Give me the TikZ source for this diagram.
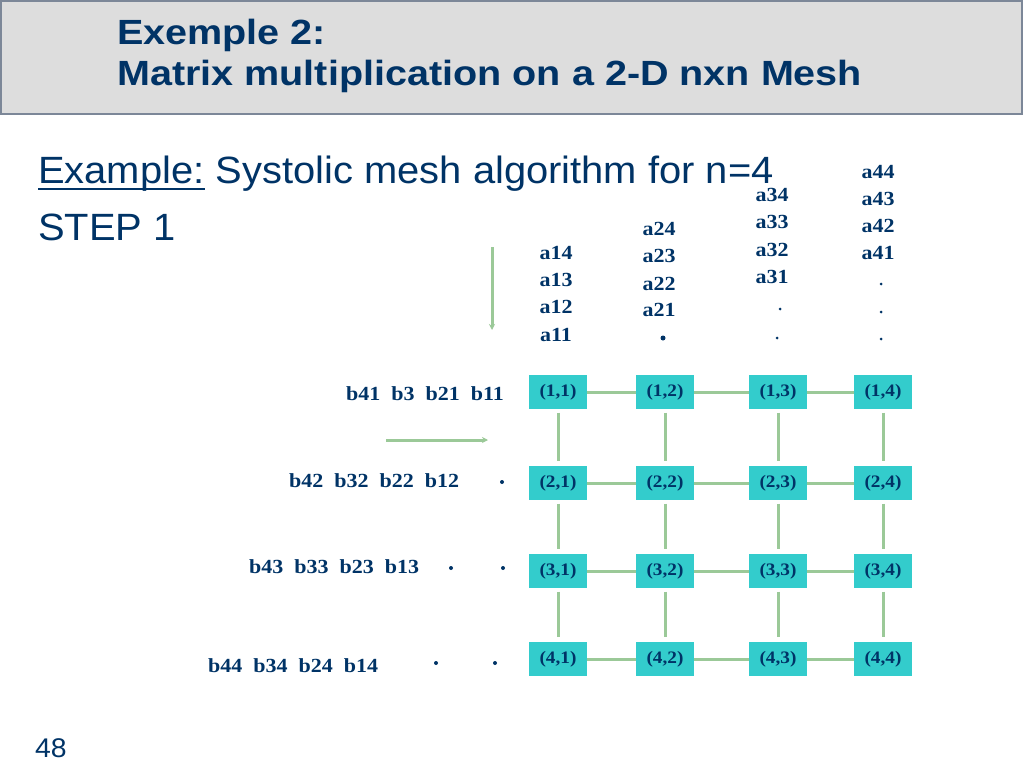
\documentclass[tikz,border=0pt]{standalone}
\usepackage{fontspec}
\setmainfont[FakeStretch=1.1]{Liberation Serif}
\newfontfamily\titlefont[FakeStretch=1.13]{Liberation Sans}
\newfontfamily\bodyfont[FakeStretch=1.05]{Liberation Sans}
\usetikzlibrary{arrows.meta}
\definecolor{navy}{RGB}{0,51,102}
\definecolor{meshcyan}{RGB}{51,204,204}
\definecolor{linkgreen}{RGB}{155,201,152}
\definecolor{barfill}{RGB}{221,221,221}
\definecolor{barline}{RGB}{124,135,152}
\tikzset{
    pe/.style={fill=meshcyan, minimum width=58pt, minimum height=34pt, inner sep=0, text=navy, font=\fontsize{17.5}{20}\selectfont\bfseries},
    elem/.style={anchor=base, text=navy, inner sep=0, font=\fontsize{20}{24}\selectfont\bfseries},
    slide/.style={anchor=base west, text=navy, inner sep=0},
    link/.style={draw=linkgreen, line width=3pt},
    flow/.style={draw=linkgreen, line width=3pt, -{Stealth[length=6pt,width=6pt]}},
    bead/.style={circle, fill=navy, inner sep=0, minimum size=#1},
    bead/.default=3pt
}

\begin{document}
\begin{tikzpicture}[x=1pt, y=-1pt]
    \useasboundingbox (0,0) rectangle (1024,768);
    % title bar
    \draw[fill=barfill, draw=barline, line width=2pt] (1,1) rectangle (1022,114);
    \node[slide, font=\titlefont\fontsize{35}{40}\selectfont\bfseries] (title1) at (117,45) {Exemple 2:};
    \node[slide, font=\titlefont\fontsize{35}{40}\selectfont\bfseries] (title2) at (117,85) {Matrix multiplication on a 2-D nxn Mesh};
    \node[slide, font=\bodyfont\fontsize{38}{44}\selectfont] (exlabel) at (38,183) {Example:};
    \node[slide, font=\bodyfont\fontsize{38}{44}\selectfont] (intro) at ([xshift=11pt]exlabel.base east) {Systolic mesh algorithm for n=4};
    \draw[navy, line width=2pt] ([yshift=-6pt]exlabel.base west) -- ([yshift=-6pt]exlabel.base east);
    \node[slide, font=\bodyfont\fontsize{38}{44}\selectfont] (step) at (38,240) {STEP 1};
    % columns of a
    \foreach \name/\x/\y in {a14/556/259, a13/556/286, a12/556/313, a11/556/341,
                             a24/659/235, a23/659/262, a22/659/290, a21/659/316,
                             a34/772/201, a33/772/228, a32/772/256, a31/772/283,
                             a44/878/178, a43/878/205, a42/878/232, a41/878/259}
        \node[elem] (\name) at (\x,\y) {\name};
    \node[bead=5pt] (ad2) at (663,338) {};
    \node[bead] (ad31) at (780,309) {};
    \node[bead] (ad32) at (777,338) {};
    \node[bead] (ad41) at (881,284) {};
    \node[bead] (ad42) at (881,312) {};
    \node[bead] (ad43) at (881,339) {};
    % rows of b
    \node[elem, anchor=base west] (brow1) at (346,400) {b41~~b3~~b21~~b11};
    \node[elem, anchor=base west] (brow2) at (289,487) {b42~~b32~~b22~~b12};
    \node[elem, anchor=base west] (brow3) at (249,573) {b43~~b33~~b23~~b13};
    \node[elem, anchor=base west] (brow4) at (208,672) {b44~~b34~~b24~~b14};
    \node[bead=4pt] (bd2) at (502,482) {};
    \node[bead=4pt] (bd31) at (451,568) {};
    \node[bead=4pt] (bd32) at (503,568) {};
    \node[bead=4pt] (bd41) at (436,663) {};
    \node[bead=4pt] (bd42) at (495,663) {};
    % flow arrows
    \coordinate (downS) at (492,247);
    \coordinate (downE) at (492,330);
    \coordinate (rightS) at (386,440);
    \coordinate (rightE) at (488,440);
    \draw[flow] (downS) -- (downE);
    \draw[flow] (rightS) -- (rightE);
    % mesh
    \foreach \r/\y in {1/392,2/483,3/571,4/659}
        \foreach \c/\x in {1/558,2/665,3/778,4/883}
            \node[pe] (p\r\c) at (\x,\y) {(\r,\c)};
    \foreach \r in {1,...,4}
        \foreach \c/\n in {1/2,2/3,3/4}
            \draw[link] (p\r\c) -- (p\r\n);
    \foreach \r/\n in {1/2,2/3,3/4}
        \foreach \c in {1,...,4}
            \draw[link, shorten <=3.5pt, shorten >=5pt] (p\r\c) -- (p\n\c);
    \node[slide, font=\bodyfont\fontsize{27}{30}\selectfont] (pagenum) at (35,757) {48};
\end{tikzpicture}
\end{document}
